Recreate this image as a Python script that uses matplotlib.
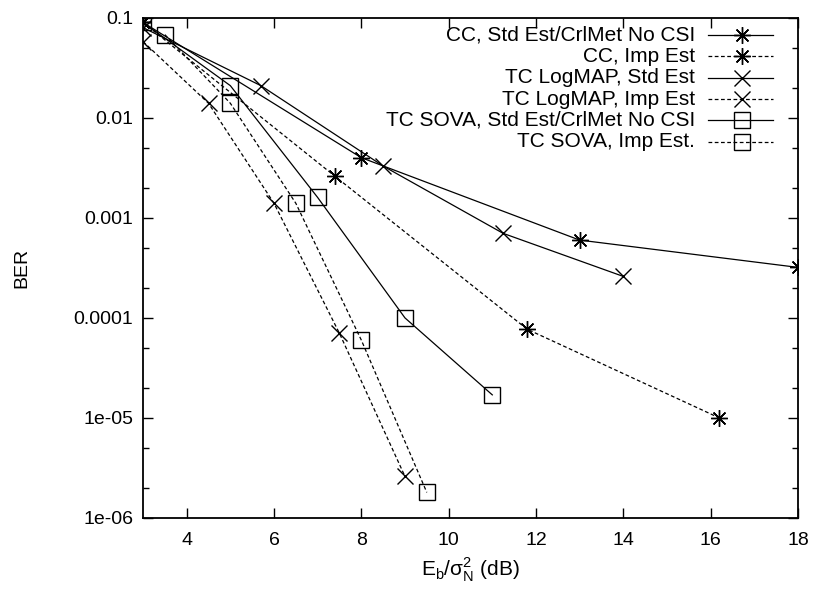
import matplotlib
matplotlib.use("Agg")
import matplotlib.pyplot as plt
from matplotlib.ticker import LogLocator, NullFormatter, FixedLocator, FixedFormatter

plt.rcParams['font.family'] = ['Liberation Sans', 'DejaVu Sans']
plt.rcParams['mathtext.fontset'] = 'custom'
plt.rcParams['mathtext.rm'] = 'Liberation Sans'

# Eb/N0 (dB) and BER for each decoder setup
cc_std_x = [3, 8, 13, 18]
cc_std_y = [0.09, 0.004, 0.0006, 0.00032]

cc_imp_x = [3, 7.4, 11.8, 16.2]
cc_imp_y = [0.09, 0.0026, 7.7e-5, 1e-5]

log_std_x = [3, 5.7, 8.5, 11.25, 14]
log_std_y = [0.08, 0.021, 0.0033, 0.0007, 0.00026]

log_imp_x = [3, 4.5, 6, 7.5, 9]
log_imp_y = [0.058, 0.014, 0.0014, 7e-5, 2.6e-6]

sova_std_x = [3, 5, 7, 9, 11]
sova_std_y = [0.09, 0.021, 0.0016, 1e-4, 1.7e-5]

sova_imp_x = [3.5, 5, 6.5, 8, 9.5]
sova_imp_y = [0.068, 0.014, 0.0014, 6e-5, 1.8e-6]

labels = ["CC, Std Est/CrlMet No CSI", "CC, Imp Est",
          "TC LogMAP, Std Est", "TC LogMAP, Imp Est",
          "TC SOVA, Std Est/CrlMet No CSI", "TC SOVA, Imp Est."]

ytick_vals = [1e-6, 1e-5, 1e-4, 1e-3, 1e-2, 1e-1]
ytick_text = ["1e-06", "1e-05", "0.0001", "0.001", "0.01", "0.1"]

fig = plt.figure(figsize=(8.15, 5.96), dpi=100)
ax = fig.add_axes([0.1755, 0.131, 0.8035, 0.839])

star = (8, 2, 0)
dash = (0, (3, 2))
base = dict(color='black', linewidth=0.9, markeredgewidth=1.0)
styles = [
    dict(marker=star, linestyle='-', markersize=12),
    dict(marker=star, linestyle=dash, markersize=12),
    dict(marker='x', linestyle='-', markersize=11),
    dict(marker='x', linestyle=dash, markersize=11),
    dict(marker='s', linestyle='-', markersize=12, fillstyle='none'),
    dict(marker='s', linestyle=dash, markersize=12, fillstyle='none'),
]
series = [(cc_std_x, cc_std_y), (cc_imp_x, cc_imp_y),
          (log_std_x, log_std_y), (log_imp_x, log_imp_y),
          (sova_std_x, sova_std_y), (sova_imp_x, sova_imp_y)]

for (xs, ys), st in zip(series, styles):
    ax.plot(xs, ys, **base, **st)

ax.set_yscale('log')
ax.set_xlim(3, 18)
ax.set_ylim(1e-6, 0.1)
ax.set_xticks([4, 6, 8, 10, 12, 14, 16, 18])
ax.yaxis.set_major_locator(FixedLocator(ytick_vals))
ax.yaxis.set_major_formatter(FixedFormatter(ytick_text))
ax.yaxis.set_minor_locator(LogLocator(base=10, subs=(2, 5)))
ax.yaxis.set_minor_formatter(NullFormatter())

ax.tick_params(which='both', direction='in', top=True, right=True,
               labelsize=14, width=1.0)
ax.tick_params(axis='x', pad=10)
ax.tick_params(axis='y', pad=7)
ax.tick_params(which='major', length=7)
ax.tick_params(which='minor', length=4)
for s in ax.spines.values():
    s.set_linewidth(1.3)

ax.set_ylabel("BER", fontsize=14, labelpad=31)
ax.set_xlabel("E$_\\mathregular{b}$/σ$^\\mathregular{2}_\\mathregular{N}$ (dB)",
              fontsize=15, labelpad=5)

# key in the top right corner: right-aligned text, sample line to its right
key_y0, key_dy = 0.966, 0.0428
for i, (lab, st) in enumerate(zip(labels, styles)):
    y = key_y0 - i * key_dy
    ax.text(0.843, y, lab, transform=ax.transAxes, ha='right', va='center',
            fontsize=15)
    ax.plot([0.8626, 0.9618], [y, y], transform=ax.transAxes, color='black',
            linewidth=0.9, linestyle=st['linestyle'], clip_on=False)
    ax.plot([0.9145], [y], transform=ax.transAxes, color='black',
            linestyle='none', marker=st['marker'], markersize=st['markersize'],
            fillstyle=st.get('fillstyle', 'full'), markeredgewidth=1.0,
            clip_on=False)

fig.savefig("out.png", dpi=100)
